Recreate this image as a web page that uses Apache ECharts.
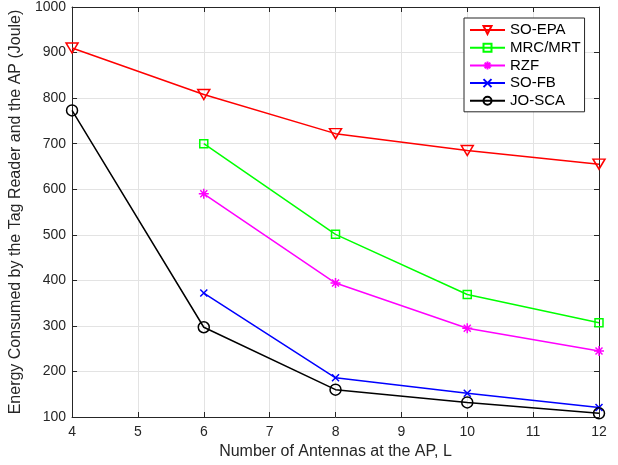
<!DOCTYPE html>
<html><head><meta charset="utf-8">
<script src="https://cdn.jsdelivr.net/npm/echarts@6/dist/echarts.min.js"></script>
<style>html,body{margin:0;padding:0;background:#fff}#c{width:618px;height:465px}</style>
</head><body><div id="c"></div>
<script>
const antennas = [4, 6, 8, 10, 12];
const soEPA = [910, 808, 722, 685, 655];
const mrcMRT = [null, 700, 501, 369, 307];
const rzf = [null, 590, 394, 295, 245];
const soFB = [null, 372, 186, 152, 121];
const joSCA = [773, 297, 160, 132, 108];
const xTicks = [4, 5, 6, 7, 8, 9, 10, 11, 12];
const yTicks = [100, 200, 300, 400, 500, 600, 700, 800, 900, 1000];

function pairs(vals){ const out=[]; vals.forEach((v,i)=>{ if(v!==null) out.push([antennas[i], v]); }); return out; }

const txt = '#262626';
const font = 'Liberation Sans, Arial, sans-serif';
function mk(name, vals, color, symbol, size, rotate){
  return {
    name, type:'line', data:pairs(vals), symbol, symbolSize:size, symbolRotate:rotate||0,
    showSymbol:true, animation:false,
    lineStyle:{color, width:1.5},
    itemStyle:{color:'rgba(255,255,255,0)', borderColor:color, borderWidth:1.5},
    emphasis:{disabled:true}
  };
}
const chart = echarts.init(document.getElementById('c'), null, {renderer:'canvas'});
const axisCommon = {
  type:'value', min:4, max:12, interval:1,
  axisLine:{show:true, onZero:false, lineStyle:{color:txt, width:1}},
  axisTick:{show:true, inside:true, length:5, lineStyle:{color:txt}},
};
chart.setOption({
  animation:false,
  backgroundColor:'#fff',
  grid:{left:72, right:19, top:6, bottom:48},
  legend:{
    orient:'vertical', left:464, top:18,
    backgroundColor:'#fff', borderColor:'#262626', borderWidth:1,
    padding:[4.5,4,3.5,5], itemGap:2.7, itemWidth:35, itemHeight:10,
    textStyle:{color:'#000', fontSize:15, fontFamily:font},
    data:['SO-EPA','MRC/MRT','RZF','SO-FB','JO-SCA']
  },
  xAxis:[
    Object.assign({}, axisCommon, {
      position:'bottom',
      name:'Number of Antennas at the AP, L', nameLocation:'middle', nameGap:26,
      nameTextStyle:{color:txt, fontSize:16, fontFamily:font},
      axisLabel:{color:txt, fontSize:14, fontFamily:font, margin:8,
        formatter:v=>xTicks.includes(v)?String(v):''},
      splitLine:{show:true, lineStyle:{color:'#e3e3e3', width:1}}
    }),
    Object.assign({}, axisCommon, {position:'top', axisLabel:{show:false}, splitLine:{show:false}})
  ],
  yAxis:[
    {
      type:'value', min:100, max:1000, interval:100, position:'left',
      name:'Energy Consumed by the Tag Reader and the AP (Joule)', nameLocation:'middle', nameGap:39,
      nameTextStyle:{color:txt, fontSize:16, fontFamily:font},
      axisLine:{show:true, onZero:false, lineStyle:{color:txt}},
      axisTick:{show:true, inside:true, length:5, lineStyle:{color:txt}},
      axisLabel:{color:txt, fontSize:14, fontFamily:font, margin:6,
        formatter:v=>yTicks.includes(v)?String(v):''},
      splitLine:{show:true, lineStyle:{color:'#e3e3e3', width:1}}
    },
    {
      type:'value', min:100, max:1000, interval:100, position:'right',
      axisLine:{show:true, onZero:false, lineStyle:{color:txt}},
      axisTick:{show:true, inside:true, length:5, lineStyle:{color:txt}},
      axisLabel:{show:false}, splitLine:{show:false}
    }
  ],
  series:[
    mk('SO-EPA', soEPA, '#ff0000', 'triangle', [12,10], 180),
    mk('MRC/MRT', mrcMRT, '#00ff00', 'rect', 8),
    mk('RZF', rzf, '#ff00ff', 'path://M5,0L5,10M0,5L10,5M1.5,1.5L8.5,8.5M8.5,1.5L1.5,8.5', 10),
    mk('SO-FB', soFB, '#0000ff', 'path://M0,0L10,10M10,0L0,10', 7),
    mk('JO-SCA', joSCA, '#000000', 'circle', 11)
  ]
});
</script></body></html>
